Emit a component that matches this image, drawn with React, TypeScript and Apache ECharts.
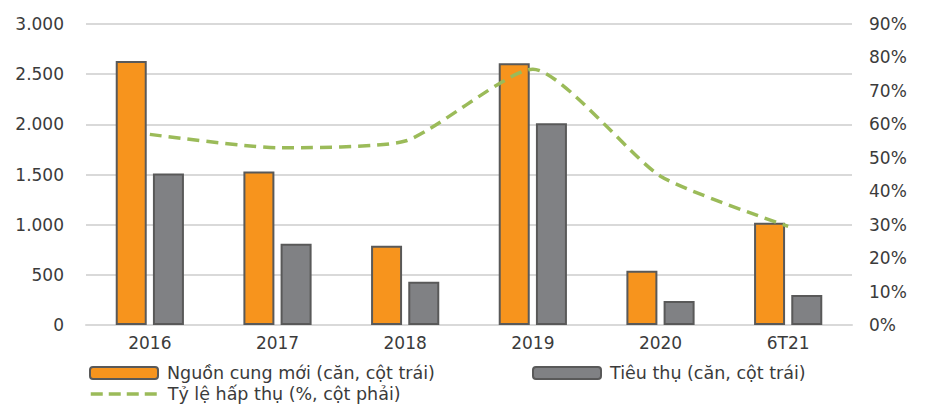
import React, { useEffect, useRef } from "react";
import * as echarts from "echarts";

const categories = ["2016", "2017", "2018", "2019", "2020", "6T21"];
const newSupply = [2630, 1530, 790, 2610, 540, 1020];
const sales = [1510, 810, 430, 2010, 240, 300];
const absorption = [57, 53, 55, 76.5, 44.5, 29.5];

const leftTicks = { min: 0, max: 3000, interval: 500 };
const rightTicks = { min: 0, max: 90, interval: 10 };

const seriesNames = [
  "Nguồn cung mới (căn, cột trái)",
  "Tiêu thụ (căn, cột trái)",
  "Tỷ lệ hấp thụ (%, cột phải)",
];

const FONT = "DejaVu Sans";
const TEXT = "#3b3b3b";

export default function App() {
  const ref = useRef<HTMLDivElement>(null);
  useEffect(() => {
    if (!ref.current) return;
    const chart = echarts.init(ref.current, undefined, { renderer: "svg" });
    const legendText = {
      color: TEXT,
      fontFamily: FONT,
      fontSize: 17.5,
      padding: [0, 0, 0, 4],
    };
    chart.setOption({
      animation: false,
      textStyle: { fontFamily: FONT },
      grid: { left: 86, right: 76, top: 24, bottom: 80, containLabel: false },
      legend: [
        {
          data: [seriesNames[0]],
          left: 84,
          top: 359,
          itemWidth: 68,
          itemHeight: 12,
          textStyle: legendText,
        },
        {
          data: [seriesNames[1]],
          left: 527,
          top: 359,
          itemWidth: 68,
          itemHeight: 12,
          textStyle: legendText,
        },
        {
          data: [seriesNames[2]],
          left: 84,
          top: 380,
          itemWidth: 68,
          itemHeight: 12,
          itemStyle: { opacity: 0 },
          lineStyle: { color: "#9BBB59", width: 3.5, type: [12, 6] },
          textStyle: legendText,
        },
      ],
      xAxis: {
        type: "category",
        data: categories,
        axisLine: { lineStyle: { color: "#d9d9d9", width: 2 } },
        axisTick: { show: false },
        axisLabel: { color: TEXT, fontFamily: FONT, fontSize: 17, margin: 9 },
      },
      yAxis: [
        {
          type: "value",
          ...leftTicks,
          axisLine: { show: false },
          axisTick: { show: false },
          splitLine: { lineStyle: { color: "#d9d9d9", width: 2 } },
          axisLabel: {
            color: TEXT,
            fontFamily: FONT,
            fontSize: 17,
            margin: 22,
            formatter: (v: number) =>
              v.toString().replace(/\B(?=(\d{3})+(?!\d))/g, "."),
          },
        },
        {
          type: "value",
          ...rightTicks,
          position: "right",
          axisLine: { show: false },
          axisTick: { show: false },
          splitLine: { show: false },
          axisLabel: {
            color: TEXT,
            fontFamily: FONT,
            fontSize: 17,
            margin: 17,
            formatter: "{value}%",
          },
        },
      ],
      series: [
        {
          name: seriesNames[0],
          type: "bar",
          data: newSupply,
          barWidth: 31,
          barGap: "20%",
          itemStyle: { color: "#F7941D", borderColor: "#595959", borderWidth: 2 },
        },
        {
          name: seriesNames[1],
          type: "bar",
          data: sales,
          barWidth: 31,
          barGap: "20%",
          itemStyle: { color: "#808184", borderColor: "#595959", borderWidth: 2 },
        },
        {
          name: seriesNames[2],
          type: "line",
          yAxisIndex: 1,
          data: absorption,
          smooth: 0.2,
          symbol: "none",
          z: 5,
          itemStyle: { color: "#9BBB59" },
          lineStyle: { color: "#9BBB59", width: 3.5, type: [12, 7] },
        },
      ],
    });
    return () => chart.dispose();
  }, []);
  return (
    <div
      ref={ref}
      style={{ position: "fixed", left: 0, top: 0, width: 928, height: 405, background: "#fff" }}
    />
  );
}
